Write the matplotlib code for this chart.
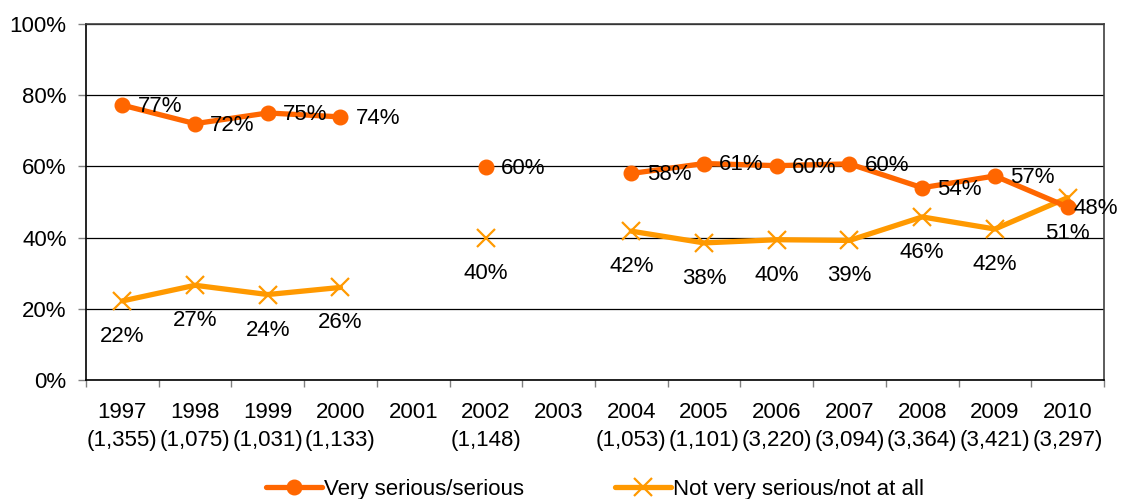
import numpy as np
import matplotlib
matplotlib.use("Agg")
import matplotlib.pyplot as plt
from matplotlib.ticker import FixedLocator

plt.rcParams['font.family'] = ['Liberation Sans', 'DejaVu Sans']

years = ["1997", "1998", "1999", "2000", "2001", "2002", "2003",
         "2004", "2005", "2006", "2007", "2008", "2009", "2010"]
sample_sizes = ["(1,355)", "(1,075)", "(1,031)", "(1,133)", "", "(1,148)", "",
                "(1,053)", "(1,101)", "(3,220)", "(3,094)", "(3,364)", "(3,421)", "(3,297)"]

# label values (%) - None for years without data
serious = [77, 72, 75, 74, None, 60, None, 58, 61, 60, 60, 54, 57, 48]
not_serious = [22, 27, 24, 26, None, 40, None, 42, 38, 40, 39, 46, 42, 51]

# plotted positions
serious_plot = [77.2, 72, 75, 73.9, None, 59.8, None, 58, 60.8, 60.2, 60.7, 54, 57.3, 48.6]
not_serious_plot = [22.2, 26.6, 24, 26, None, 40, None, 41.8, 38.5, 39.4, 39.2, 45.8, 42.4, 51.2]

c_dark = "#FF6600"
c_light = "#FF9900"
fs = 16

fig = plt.figure(figsize=(11.21, 4.99), dpi=100)
ax = fig.add_axes([0.0767, 0.2385, 0.9081, 0.7135])

x = np.arange(len(years))
s = np.array([np.nan if v is None else v for v in serious_plot], dtype=float)
n = np.array([np.nan if v is None else v for v in not_serious_plot], dtype=float)

ax.plot(x, s, color=c_dark, lw=3.8, marker="o", ms=10.5, mec=c_dark, mfc=c_dark,
        label="Very serious/serious", zorder=4, solid_capstyle="round")
ax.plot(x, n, color=c_light, lw=3.8, marker="x", ms=13, mew=1.6, mec=c_light,
        label="Not very serious/not at all", zorder=3, solid_capstyle="round")

# data labels
for i in range(len(years)):
    if serious[i] is not None:
        dx = 4 if i == len(years) - 1 else 11  # last one squeezed in at the edge
        ax.annotate(f"{serious[i]}%", (x[i], s[i]), xytext=(dx, -1), textcoords="offset points",
                    ha="left", va="center", fontsize=fs, zorder=5)
    if not_serious[i] is not None:
        ax.annotate(f"{not_serious[i]}%", (x[i], n[i]), xytext=(0, -18), textcoords="offset points",
                    ha="center", va="top", fontsize=fs, zorder=5)

ax.set_xlim(-0.5, len(years) - 0.5)
ax.set_ylim(0, 100)

ax.set_yticks(np.arange(0, 101, 20))
ax.set_yticklabels([f"{v}%" for v in range(0, 101, 20)], fontsize=fs)
ax.yaxis.grid(True, color="black", lw=0.9)
ax.set_axisbelow(True)

ax.set_xticks(x)
ax.set_xticklabels([f"{y}\n{n_}" for y, n_ in zip(years, sample_sizes)], fontsize=fs, linespacing=1.45)
ax.xaxis.set_minor_locator(FixedLocator(np.arange(-0.5, len(years), 1)))
ax.tick_params(axis="x", which="major", length=0, pad=16)
ax.tick_params(axis="x", which="minor", length=5, color="#808080", width=1)
ax.tick_params(axis="y", length=6, color="#808080", width=1, pad=8)

for side in ["left", "bottom"]:
    ax.spines[side].set_color("black")
    ax.spines[side].set_linewidth(1.2)
for side in ["top", "right"]:
    ax.spines[side].set_color("#404040")
    ax.spines[side].set_linewidth(1.2)

fig.legend(loc="lower center", bbox_to_anchor=(0.531, -0.042), ncol=2, frameon=False,
           fontsize=fs, handlelength=2.5, handletextpad=0.1, columnspacing=4.1)

fig.savefig("out.png", dpi=100)
